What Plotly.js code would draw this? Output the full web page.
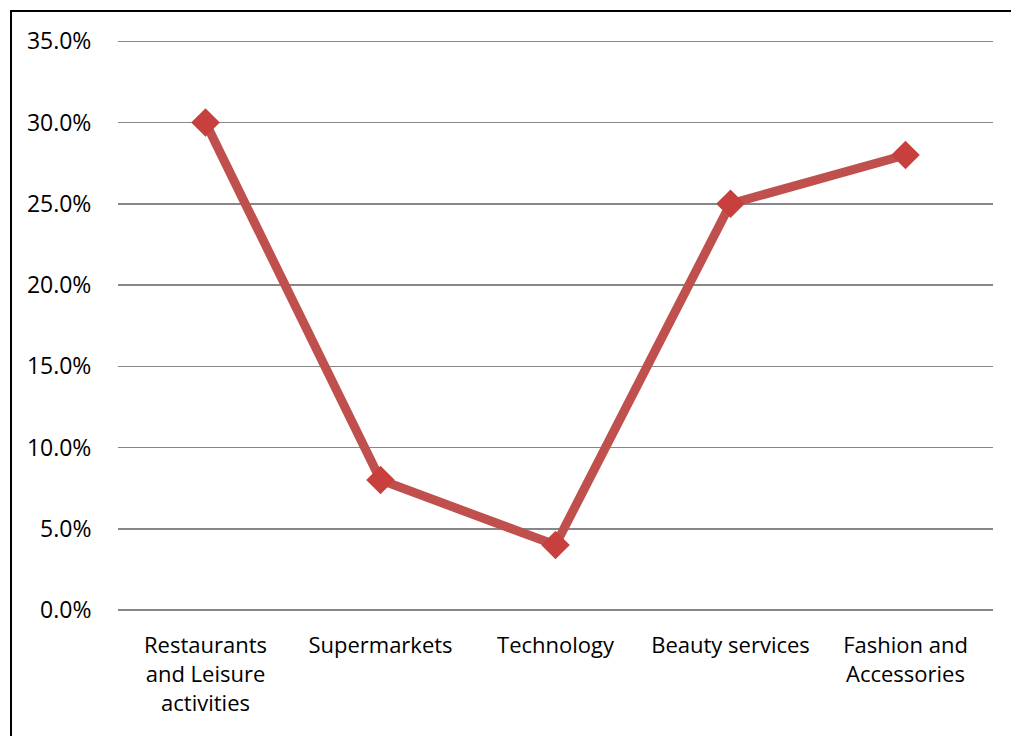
<!DOCTYPE html>
<html><head><meta charset="utf-8">
<script src="https://cdn.plot.ly/plotly-3.0.1.min.js"></script>
<style>
html,body{margin:0;padding:0;background:#fff;overflow:hidden;}
#frame{position:absolute;left:10px;top:10px;width:1100px;height:800px;border-left:2px solid #000;border-top:2px solid #000;}
#chart{position:absolute;left:0;top:0;width:1011px;height:736px;}
</style></head>
<body>
<div id="frame"></div>
<div id="chart"></div>
<script>
const categories = ["Restaurants<br>and Leisure<br>activities", "Supermarkets", "Technology", "Beauty services", "Fashion and<br>Accessories"];
const values = [0.30, 0.08, 0.04, 0.25, 0.28];
const yTickVals = [0, 0.05, 0.10, 0.15, 0.20, 0.25, 0.30, 0.35];

const trace = {
  x: categories.map((c, i) => i),
  y: values,
  type: 'scatter',
  mode: 'lines+markers',
  line: {color: '#C0504D', width: 9},
  marker: {symbol: 'diamond', size: 22, color: '#C8403D', line: {width: 0}},
  hoverinfo: 'none'
};

const layout = {
  width: 1011, height: 736,
  margin: {l: 118, r: 18, t: 38, b: 126},
  paper_bgcolor: 'rgba(0,0,0,0)',
  plot_bgcolor: 'rgba(0,0,0,0)',
  showlegend: false,
  font: {family: 'Open Sans, Liberation Sans, sans-serif', size: 22, color: '#000'},
  xaxis: {
    range: [-0.5, 4.5],
    tickvals: categories.map((c, i) => i),
    ticktext: categories,
    showgrid: false, zeroline: false, showline: false,
    ticks: 'outside', ticklen: 16, tickcolor: 'rgba(0,0,0,0)',
    tickfont: {size: 22}, fixedrange: true
  },
  yaxis: {
    range: [0, 0.352],
    tickvals: yTickVals,
    tickformat: '.1%',
    showgrid: true, gridcolor: '#878787', gridwidth: 1.5,
    zeroline: true, zerolinecolor: '#878787', zerolinewidth: 1.5,
    showline: false,
    ticks: 'outside', ticklen: 21, tickcolor: 'rgba(0,0,0,0)',
    tickfont: {size: 23}, fixedrange: true
  }
};

Plotly.newPlot('chart', [trace], layout, {displayModeBar: false, staticPlot: true});
</script>
</body></html>
